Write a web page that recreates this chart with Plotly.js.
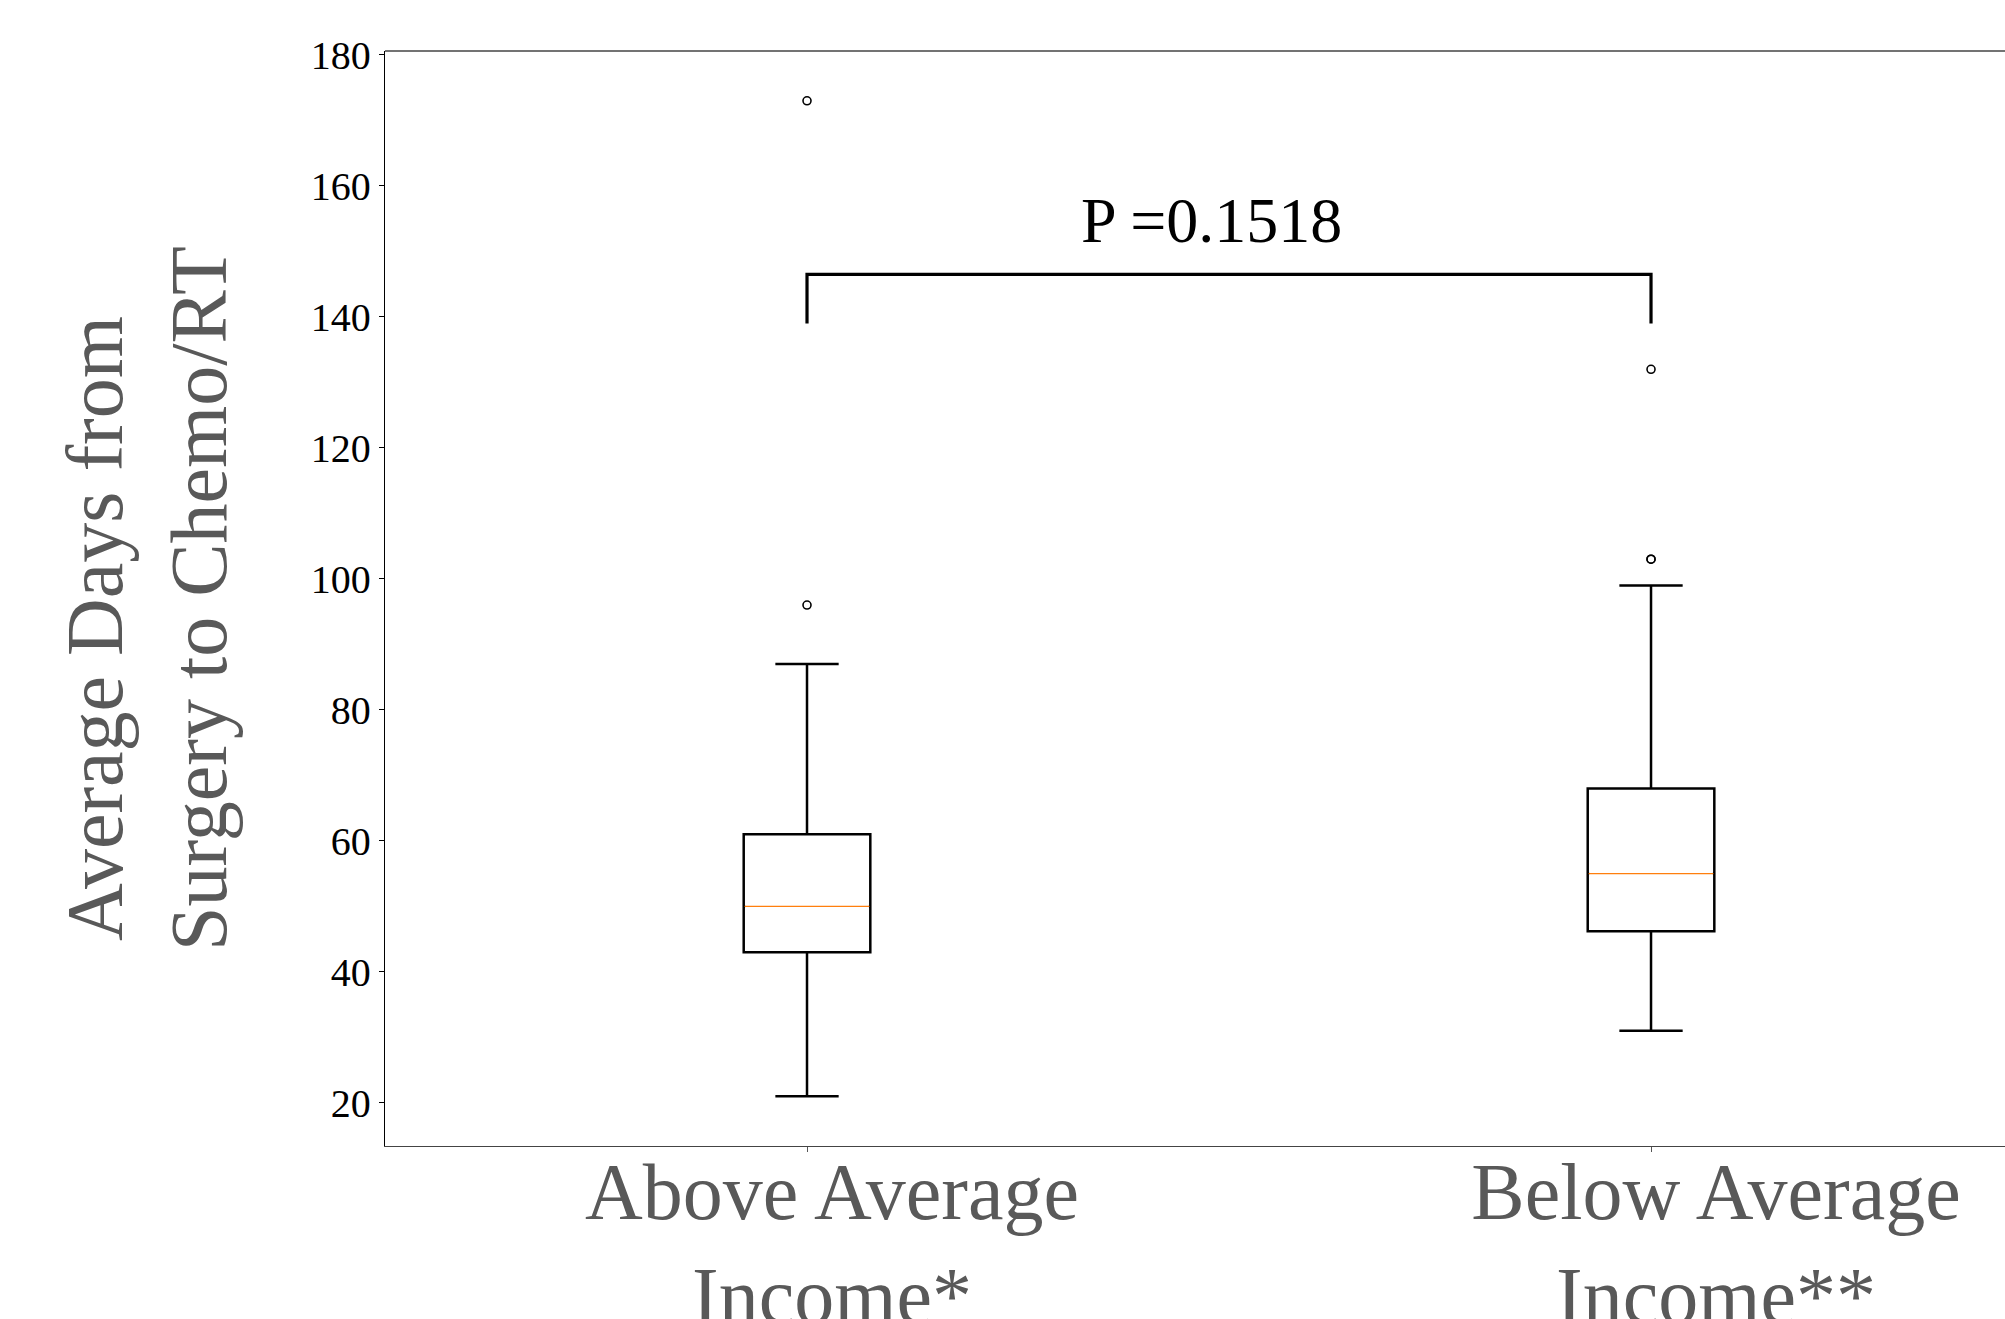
<!DOCTYPE html>
<html>
<head>
<meta charset="utf-8">
<script src="https://cdn.plot.ly/plotly-3.0.1.min.js"></script>
<style>
  html, body { margin: 0; padding: 0; background: #ffffff; overflow: hidden; }
  #chart { width: 2005px; height: 1319px; }
</style>
</head>
<body>
<div id="chart"></div>
<script>
// ---- data ----
const NB = "\u00A0";
const categories = [
  "Above Average" + NB + NB + "<br>Income*" + NB + NB,
  NB + NB + "Below Average<br>" + NB + NB + "Income**"
];
const positions = [1, 2];
const lowerWhisker = [21, 31];
const q1Values = [43, 46.2];
const medianValues = [50, 55];
const q3Values = [61, 68];
const upperWhisker = [87, 99];
const outliersAbove = [96, 173];
const outliersBelow = [103, 103, 132];
const bracketY = [139, 146.5];
const pValueText = "P =0.1518";
const yTickValues = [20, 40, 60, 80, 100, 120, 140, 160, 180];
const yTitle = "Average Days from" + NB + NB + NB + "<br>Surgery to Chemo/RT" + NB + NB + NB;

// ---- styles ----
const boxWidth = 0.15;
const serif = "Liberation Serif, Times New Roman, serif";
const grey = "#595959";

// median overlay segments (white cover, then orange line)
const medX = [], medY = [], coverX = [], coverY = [];
positions.forEach((p, i) => {
  medX.push(p - boxWidth / 2 * 0.985, p + boxWidth / 2 * 0.985, null);
  medY.push(medianValues[i], medianValues[i], null);
  coverX.push(p - boxWidth / 2 * 0.978, p + boxWidth / 2 * 0.978, null);
  coverY.push(medianValues[i], medianValues[i], null);
});

const outX = [], outY = [];
outliersAbove.forEach(v => { outX.push(positions[0]); outY.push(v); });
outliersBelow.forEach(v => { outX.push(positions[1]); outY.push(v); });

const traces = [
  {
    type: "box",
    x: positions,
    q1: q1Values,
    median: medianValues,
    q3: q3Values,
    lowerfence: lowerWhisker,
    upperfence: upperWhisker,
    width: boxWidth,
    whiskerwidth: 0.5,
    boxpoints: false,
    line: { color: "#000000", width: 2.5 },
    fillcolor: "rgba(0,0,0,0)",
    hoverinfo: "skip"
  },
  {
    type: "scatter", mode: "lines",
    x: coverX, y: coverY,
    line: { color: "#ffffff", width: 4 },
    hoverinfo: "skip"
  },
  {
    type: "scatter", mode: "lines",
    x: medX, y: medY,
    line: { color: "#ff7f0e", width: 1.3 },
    hoverinfo: "skip"
  },
  {
    type: "scatter", mode: "markers",
    x: outX, y: outY,
    marker: { symbol: "circle-open", size: 8, color: "#000000", line: { width: 1.6, color: "#000000" } },
    hoverinfo: "skip"
  },
  {
    type: "scatter", mode: "lines",
    x: [positions[0], positions[0], positions[1], positions[1]],
    y: [bracketY[0], bracketY[1], bracketY[1], bracketY[0]],
    line: { color: "#000000", width: 3.2 },
    hoverinfo: "skip"
  }
];

const layout = {
  width: 2005,
  height: 1319,
  margin: { l: 385, r: 0, t: 51, b: 173, pad: 0 },
  paper_bgcolor: "#ffffff",
  plot_bgcolor: "#ffffff",
  showlegend: false,
  hovermode: false,
  font: { family: serif, color: "#000000" },
  xaxis: {
    range: [0.5, 2.4194],
    tickmode: "array",
    tickvals: positions,
    ticktext: categories,
    tickfont: { family: serif, size: 80, color: grey },
    ticklabelshift: 45,
    ticklabelstandoff: -29,
    ticks: "outside",
    ticklen: 5,
    tickwidth: 1,
    tickcolor: "#555555",
    showline: true,
    linecolor: "#444444",
    linewidth: 1.3,
    showgrid: false,
    zeroline: false
  },
  yaxis: {
    range: [13.4, 180.6],
    tickmode: "array",
    tickvals: yTickValues,
    tickfont: { family: serif, size: 40, color: "#000000" },
    ticks: "outside",
    ticklen: 5,
    tickwidth: 1,
    tickcolor: "#000000",
    showline: true,
    linecolor: "#000000",
    linewidth: 1.3,
    showgrid: false,
    zeroline: false,
    title: {
      text: yTitle,
      font: { family: serif, size: 80, color: grey },
      standoff: 57
    }
  },
  shapes: [
    { type: "line", xref: "paper", yref: "paper", x0: 0, x1: 1, y0: 1, y1: 1,
      line: { color: "#444444", width: 1.3 } }
  ],
  annotations: [
    {
      x: (positions[0] + positions[1]) / 2, y: bracketY[1] + 2.5,
      xref: "x", yref: "y",
      xanchor: "center", yanchor: "bottom",
      xshift: -18,
      text: pValueText,
      showarrow: false,
      font: { family: serif, size: 64, color: "#000000" }
    }
  ]
};

Plotly.newPlot("chart", traces, layout, { displayModeBar: false, staticPlot: true });
</script>
</body>
</html>
